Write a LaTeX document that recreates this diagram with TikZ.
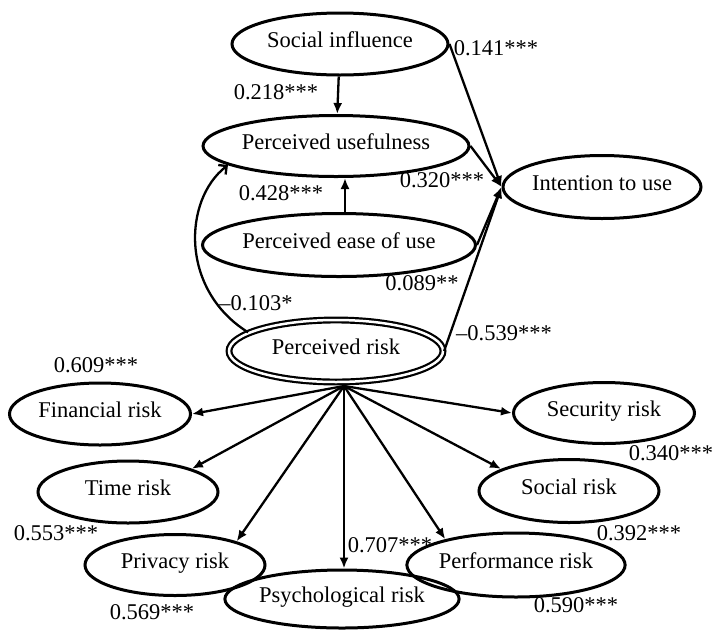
\documentclass[tikz,border=0pt]{standalone}
\usepackage{fontspec}
\setmainfont{Liberation Serif}
\usetikzlibrary{shapes.geometric,arrows.meta}
\begin{document}
\begin{tikzpicture}[x=1pt,y=-1pt,
  every node/.style={font=\fontsize{22.5}{26}\selectfont},
  ell/.style={ellipse,draw,line width=3pt,inner sep=0pt,minimum width=180pt,minimum height=62pt,text height=0.75em,text depth=0.1em},
  wide/.style={ell,minimum width=216pt},
  coef/.style={inner sep=0pt},
  arr/.style={line width=2.3pt,-{Latex[length=11pt,width=9pt]}},
  curvearr/.style={line width=2.3pt,-{Straight Barb[length=6pt,width=12pt,line width=2.3pt]}}
]
\useasboundingbox (0,0) rectangle (712,630);
% top nodes
\node[wide] (SI) at (340,44) {Social influence};
\node[wide,minimum width=215pt,minimum height=61pt] (PU) at (336,146) {Perceived usefulness};
\node[wide,minimum height=63pt] (PE) at (339,245) {Perceived ease of use};
\node[ell,minimum height=63pt] (IU) at (602,187) {Intention to use};
\node[ellipse,draw,double,double distance=2.5pt,line width=2.2pt,inner sep=0pt,minimum width=214pt,minimum height=62pt,text height=0.75em,text depth=0.1em] (PR) at (336,351) {Perceived risk};
% risk dimensions
\node[ell,minimum width=181pt] (FR) at (100,414) {Financial risk};
\node[ell] (TR) at (128,492) {Time risk};
\node[ell,minimum height=61pt] (PV) at (175,565) {Privacy risk};
\node[ell,minimum width=175pt,minimum height=58pt] (PS) at (342,599) {Psychological risk};
\node[ell,minimum width=178pt,minimum height=64pt] (PF) at (516,565) {Performance risk};
\node[ell,minimum height=63pt] (SR) at (569,491) {Social risk};
\node[ell,minimum width=181pt,minimum height=61pt] (SE) at (604,413) {Security risk};
% structural paths
\draw[arr] (SI) -- (PU);
\draw[arr] (PE.north -| 345,0) -- (PU.south -| 345,0);
\draw[arr] (SI.east) -- (IU.west);
\draw[arr] (PU.east) -- (IU.west);
\draw[arr] (PE.east) -- (IU.west);
\draw[arr] (PR.east) -- (IU.west);
\draw[curvearr] (PR.168) .. controls (180,290) and (183,200) .. (PU.190);
% measurement paths
\coordinate (F) at (344,386);
\draw[arr] (F) -- (FR.east);
\draw[arr] (F) -- (TR.20);
\draw[arr] (F) -- (PV.21);
\draw[arr] (F) -- (F |- PS.north);
\draw[arr] (F) -- (PF.160);
\draw[arr] (F) -- (SR.162);
\draw[arr] (F) -- (SE.west);
% coefficients
\node[coef] (c1) at (496,48) {0.141***};
\node[coef] (c2) at (276,92) {0.218***};
\node[coef] (c3) at (442,180) {0.320***};
\node[coef] (c4) at (281,193) {0.428***};
\node[coef] (c5) at (422,283) {0.089**};
\node[coef] (c6) at (256,303) {–0.103*};
\node[coef] (c7) at (504,333) {–0.539***};
\node[coef] (c8) at (96,365) {0.609***};
\node[coef] (c9) at (671,453) {0.340***};
\node[coef] (c10) at (56,533) {0.553***};
\node[coef] (c11) at (639,533) {0.392***};
\node[coef] (c12) at (390,545) {0.707***};
\node[coef] (c13) at (152,612) {0.569***};
\node[coef] (c14) at (576,605) {0.590***};
\end{tikzpicture}
\end{document}
